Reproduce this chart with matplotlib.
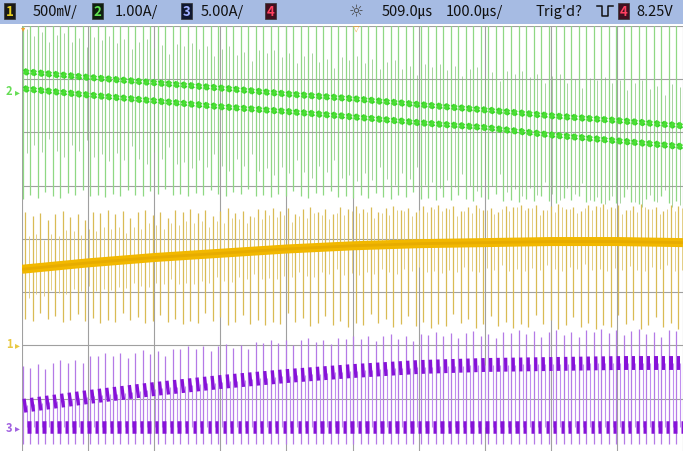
import numpy as np
import matplotlib
matplotlib.use("Agg")
import matplotlib.pyplot as plt
from matplotlib.collections import LineCollection
from matplotlib.patches import Rectangle
from matplotlib.lines import Line2D
import matplotlib.transforms as mtrans

plt.rcParams['font.family'] = ['Noto Sans CJK KR', 'DejaVu Sans']

# ---------------- acquisition settings ----------------
time_div = np.arange(11)            # envelope sample points, one per 100 µs division
n_cycles = 88                       # switching cycles across the 1 ms record

ch1_scale, ch1_offset = 0.5, -1.97  # V/div, ground marker (div)
ch2_scale, ch2_offset = 1.0, 2.78   # A/div
ch3_scale, ch3_offset = 5.0, -3.53  # A/div

# ---------------- channel 2 : current (A) ----------------
ch2_upper = [0.36, 0.25, 0.15, 0.05, -0.06, -0.15, -0.26, -0.36, -0.47, -0.56, -0.66]
ch2_lower = [0.04, -0.08, -0.19, -0.30, -0.39, -0.49, -0.60, -0.69, -0.83, -0.94, -1.05]
ch2_spike_top = 1.6
ch2_spike_bot = [-2.03, -2.00, -1.98, -1.98, -2.00, -2.02, -2.05, -2.08, -2.10, -2.12, -2.12]

# ---------------- channel 1 : voltage (V) ----------------
ch1_band = [0.70, 0.76, 0.81, 0.85, 0.89, 0.92, 0.94, 0.95, 0.96, 0.96, 0.95]
ch1_spike_top = [1.24, 1.25, 1.26, 1.27, 1.28, 1.29, 1.30, 1.30, 1.31, 1.31, 1.31]
ch1_spike_bot = [0.21, 0.20, 0.19, 0.18, 0.17, 0.16, 0.15, 0.15, 0.14, 0.14, 0.14]

# ---------------- channel 3 : current (A) ----------------
ch3_high = [1.97, 2.81, 3.56, 4.22, 4.78, 5.25, 5.63, 5.82, 5.91, 6.00, 6.00]
ch3_low = 0.0
ch3_spike_top = [5.72, 6.75, 7.32, 7.79, 8.26, 8.54, 8.82, 9.01, 9.10, 9.19, 9.19]
ch3_spike_bot = -1.6

# cycle-to-cycle spike height variation seen on screen
spike_pattern = [1.0, 0.82, 0.95, 0.66, 0.9, 1.0, 0.74, 0.86, 0.6, 0.95, 0.88]

# ---------------- figure ----------------
W, H = 683, 452
fig = plt.figure(figsize=(W / 100, H / 100), dpi=100)
fig.patch.set_facecolor('white')

def fx(px):
    return px / W

def fy(py):
    return 1 - py / H

top_px = 26.7
ax = fig.add_axes([fx(22), 0, fx(661), (H - top_px) / H])
ax.set_xlim(0, 10)
ax.set_ylim(-3.98, 4)
ax.set_facecolor('white')
for s in ax.spines.values():
    s.set_visible(False)
ax.set_xticks([])
ax.set_yticks([])

# graticule
for gx in range(0, 11):
    ax.axvline(gx, color='#a0a0a0', lw=0.8, zorder=0)
for gy in range(-3, 5):
    ax.axhline(gy, color='#a0a0a0', lw=0.8, zorder=0)

T = 10 / n_cycles
k = np.arange(n_cycles)
t0 = k * T + 0.1 * T
pat = np.array(spike_pattern)[k % len(spike_pattern)]

def env(vals, t):
    return np.interp(t, time_div, vals)

def d2(v):
    return ch2_offset + np.asarray(v) / ch2_scale

def d1(v):
    return ch1_offset + np.asarray(v) / ch1_scale

def d3(v):
    return ch3_offset + np.asarray(v) / ch3_scale

def vsegs(x, y0, y1):
    return [[(a, b), (a, c)] for a, b, c in zip(x, y0, y1)]

# ---- channel 2 (green) ----
g_bot = d2(env(ch2_spike_bot, t0)) + (1 - pat) * 0.35
ax.add_collection(LineCollection(vsegs(t0, g_bot, np.full(n_cycles, d2(ch2_spike_top))),
                                 colors='#8fd884', lw=0.9, zorder=2))
t_sec = t0 + 0.5 * T
sec_bot = d2(env(ch2_lower, t_sec)) - 0.3 - pat * 0.9
ax.add_collection(LineCollection(vsegs(t_sec, sec_bot, d2(env(ch2_upper, t_sec)) + 0.2 + pat * 0.6),
                                 colors='#7fbf74', lw=0.6, alpha=0.8, zorder=2))
for lev in (ch2_upper, ch2_lower):
    ta = t0 + 0.2 * T
    tb = t0 + 0.72 * T
    ya = d2(env(lev, ta))
    yb = d2(env(lev, tb))
    segs = [[(a, y1 + 0.05), (b, y2 - 0.05)] for a, b, y1, y2 in zip(ta, tb, ya, yb)]
    ax.add_collection(LineCollection(segs, colors='#36d425', lw=2.6, zorder=4,
                                     capstyle='butt'))
    segs = [[(a, y1 - 0.05), (b, y2 + 0.05)] for a, b, y1, y2 in zip(ta, tb, ya, yb)]
    ax.add_collection(LineCollection(segs, colors='#4ade34', lw=2.6, zorder=4,
                                     capstyle='butt'))

# ---- channel 1 (yellow) ----
y_t = t0 + 0.3 * T
band_y = d1(env(ch1_band, y_t))
top_y = band_y + (d1(env(ch1_spike_top, y_t)) - band_y) * (0.55 + 0.45 * pat)
bot_y = band_y - (band_y - d1(env(ch1_spike_bot, y_t))) * (0.6 + 0.4 * pat[::-1])
ax.add_collection(LineCollection(vsegs(y_t, bot_y, top_y),
                                 colors='#d9bb55', lw=0.9, zorder=2))
y_h = t0 + 0.8 * T
band_h = d1(env(ch1_band, y_h))
ax.add_collection(LineCollection(vsegs(y_h, band_h - 0.25 - 0.3 * pat, band_h + 0.3 + 0.35 * pat[::-1]),
                                 colors='#e4cf86', lw=0.7, zorder=2))
ax.plot(time_div, d1(ch1_band), color='#f2b800', lw=6.5, solid_capstyle='butt', zorder=3)
ax.plot(time_div, d1(ch1_band), color='#e0a400', lw=2.0, alpha=0.6, zorder=3)

# ---- channel 3 (purple) ----
p_top = d3(env(ch3_spike_top, t0)) - (1 - pat) * 0.35
ax.add_collection(LineCollection(vsegs(t0, np.full(n_cycles, d3(ch3_spike_bot)), p_top),
                                 colors='#b47ae6', lw=0.9, zorder=3))
t_fall = t0 + 0.55 * T
ax.add_collection(LineCollection(vsegs(t_fall, np.full(n_cycles, d3(ch3_low)),
                                       d3(env(ch3_high, t_fall))),
                                 colors='#c08ef0', lw=0.8, zorder=3))
h_a, h_b = t0 + 0.08 * T, t0 + 0.52 * T
segs = [[(a, y1), (b, y2)] for a, b, y1, y2 in
        zip(h_a, h_b, d3(env(ch3_high, h_a)), d3(env(ch3_high, h_b)))]
ax.add_collection(LineCollection(segs, colors='#8612d8', lw=10, capstyle='butt', zorder=4))
l_a, l_b = t0 + 0.6 * T, t0 + 1.04 * T
segs = [[(a, d3(ch3_low)), (b, d3(ch3_low))] for a, b in zip(l_a, l_b)]
ax.add_collection(LineCollection(segs, colors='#8612d8', lw=9, capstyle='butt', zorder=4))

# ---- ground markers at the left edge ----
lt = mtrans.blended_transform_factory(fig.transFigure, ax.transData)
for lab, off, col in (('2', ch2_offset, '#66dd55'), ('1', ch1_offset, '#e8c840'),
                      ('3', ch3_offset, '#a060e0')):
    ax.text(fx(9), off, lab, transform=lt, color=col, fontsize=8, ha='center',
            va='center', fontweight='bold', clip_on=False)
    ax.text(fx(17), off, '▸', transform=lt, color=col, fontsize=7, ha='center',
            va='center', clip_on=False, family='DejaVu Sans')

# trigger / time reference markers on top edge
fig.text(fx(356), fy(28), '▽', color='#f0a030', fontsize=6, ha='center', va='center',
         family='DejaVu Sans')
fig.text(fx(23), fy(29), '▾', color='#f0a030', fontsize=6, ha='center', va='center',
         family='DejaVu Sans')

# ---------------- status bar ----------------
fig.patches.append(Rectangle((0, fy(25)), 1, fy(1) - fy(25), transform=fig.transFigure,
                             facecolor='#a6bbe3', edgecolor='none', zorder=0))

def chbox(x, label, fc, tc):
    fig.patches.append(Rectangle((fx(x), fy(20)), fx(11), fy(4) - fy(20),
                                 transform=fig.transFigure, facecolor=fc,
                                 edgecolor='#333333', lw=0.5, zorder=1))
    fig.text(fx(x + 5.5), fy(12), label, color=tc, fontsize=9.5, fontweight='bold',
             ha='center', va='center')

txt = dict(fontsize=10.5, color='#111111', va='center', ha='left')
chbox(4, '1', '#1a1a1a', '#e8d020')
fig.text(fx(33), fy(12), '500㎷/', **txt)
chbox(92, '2', '#102010', '#60e050')
fig.text(fx(115), fy(12), '1.00A/', **txt)
chbox(181, '3', '#101830', '#a0b0ff')
fig.text(fx(201), fy(12), '5.00A/', **txt)
chbox(265, '4', '#401020', '#ff4060')

fig.text(fx(356), fy(12), '☼', fontsize=12, color='#444444', ha='center', va='center',
         family='DejaVu Sans')
fig.text(fx(382), fy(12), '509.0㎲', **txt)
fig.text(fx(446), fy(12), '100.0㎲/', **txt)
fig.text(fx(536), fy(12), "Trig'd?", **txt)
tx = [597, 602, 602, 608, 608, 613]
ty = [7, 7, 17, 17, 7, 7]
fig.lines.append(Line2D([fx(v) for v in tx], [fy(v) for v in ty], transform=fig.transFigure,
                        color='#111111', lw=1.1))
chbox(618, '4', '#401020', '#ff4060')
fig.text(fx(636), fy(12), '8.25V', **txt)

fig.savefig('out.png', dpi=100)
